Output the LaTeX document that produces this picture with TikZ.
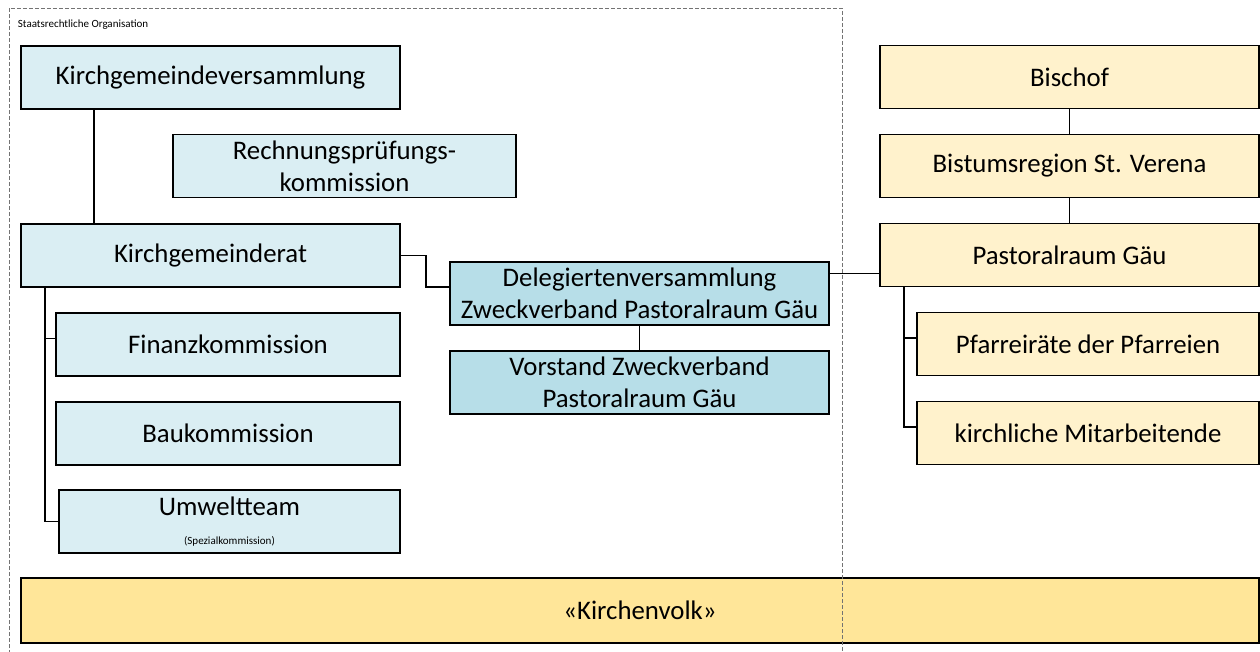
\documentclass[tikz,border=0pt]{standalone}
\usepackage{fontspec}
\setmainfont{Carlito}
\usetikzlibrary{positioning}
\definecolor{kgblue}{HTML}{DAEEF3}
\definecolor{zvblue}{HTML}{B7DEE8}
\definecolor{btyellow}{HTML}{FFF2CC}
\definecolor{kvyellow}{HTML}{FFE699}
\tikzset{
  box/.style={draw,rectangle,minimum height=63pt,inner sep=2pt,align=center,
    font=\fontsize{26.8}{32}\selectfont},
  kg/.style={box,fill=kgblue,minimum width=379pt},
  kgsub/.style={box,fill=kgblue,minimum width=344pt},
  zv/.style={box,fill=zvblue,minimum width=379pt},
  bt/.style={box,fill=btyellow,minimum width=379pt},
  btsub/.style={box,fill=btyellow,minimum width=342pt},
  frame/.style={draw=gray!90!black,line width=0.9pt,dash pattern=on 4pt off 2pt}
}
\begin{document}
\begin{tikzpicture}[x=1pt,y=-1pt,node distance=89pt,on grid,line width=1.8pt]
   \useasboundingbox (0,0) rectangle (1260,652);
   % staatsrechtliche Seite
   \node[anchor=west,inner sep=0pt,font=\fontsize{11}{13}\selectfont] (so) at (17,25) {Staatsrechtliche Organisation};
   \node[kg] (kgv) at (210.5,77.5) {Kirchgemeindeversammlung};
   \node[kg,minimum width=343pt] (rpk) at (344.5,166) {Rechnungsprüfungs-\\kommission};
   \node[kg] (kgr) [below=178pt of kgv] {Kirchgemeinderat};
   \node[kgsub] (fk) [below right=89pt and 17.5pt of kgr] {Finanzkommission};
   \node[kgsub] (bk) [below=of fk] {Baukommission};
   \node[kgsub,minimum width=341pt] (ut) at (229.5,521.5) {Umweltteam\\[-3pt]{\fontsize{11}{13}\selectfont(Spezialkommission)}};
   % Zweckverband
   \node[zv] (dv) at (639.5,293.5) {Delegiertenversammlung\\Zweckverband Pastoralraum Gäu};
   \node[zv] (vs) [below=of dv] {Vorstand Zweckverband\\Pastoralraum Gäu};
   % kirchliche Seite
   \node[bt] (bi) at (1069.5,77) {Bischof};
   \node[bt] (bs) [below=of bi] {Bistumsregion St. Verena};
   \node[bt] (pr) [below=of bs] {Pastoralraum Gäu};
   \node[btsub] (pf) [below right=89pt and 18.5pt of pr] {Pfarreiräte der Pfarreien};
   \node[btsub] (km) [below=of pf] {kirchliche Mitarbeitende};
   \node[box,fill=kvyellow,minimum width=1238pt,minimum height=65pt] (kv) at (640,610.5) {«Kirchenvolk»};
    \path
    ([xshift=74pt]kgv.south west) edge ([xshift=74pt]kgr.north west)
    (dv) edge (vs)
    (bi) edge (bs)
    (bs) edge (pr)
    (dv.6) edge (dv.6 -| pr.west);
   \draw (kgr.east) -- ++(25,0) |- (dv.178);
   \draw ([xshift=25pt]kgr.south west) |- (ut.west);
   \draw ([xshift=25pt]kgr.south west) |- ([yshift=6pt]fk.west);
   \draw ([xshift=25pt]pr.south west) |- ([yshift=6pt]km.west);
   \draw ([xshift=25pt]pr.south west) |- ([yshift=6pt]pf.west);
   \draw[frame] (9,660) -- (9,8) -- (842,8) -- (842,660);
\end{tikzpicture}
\end{document}
